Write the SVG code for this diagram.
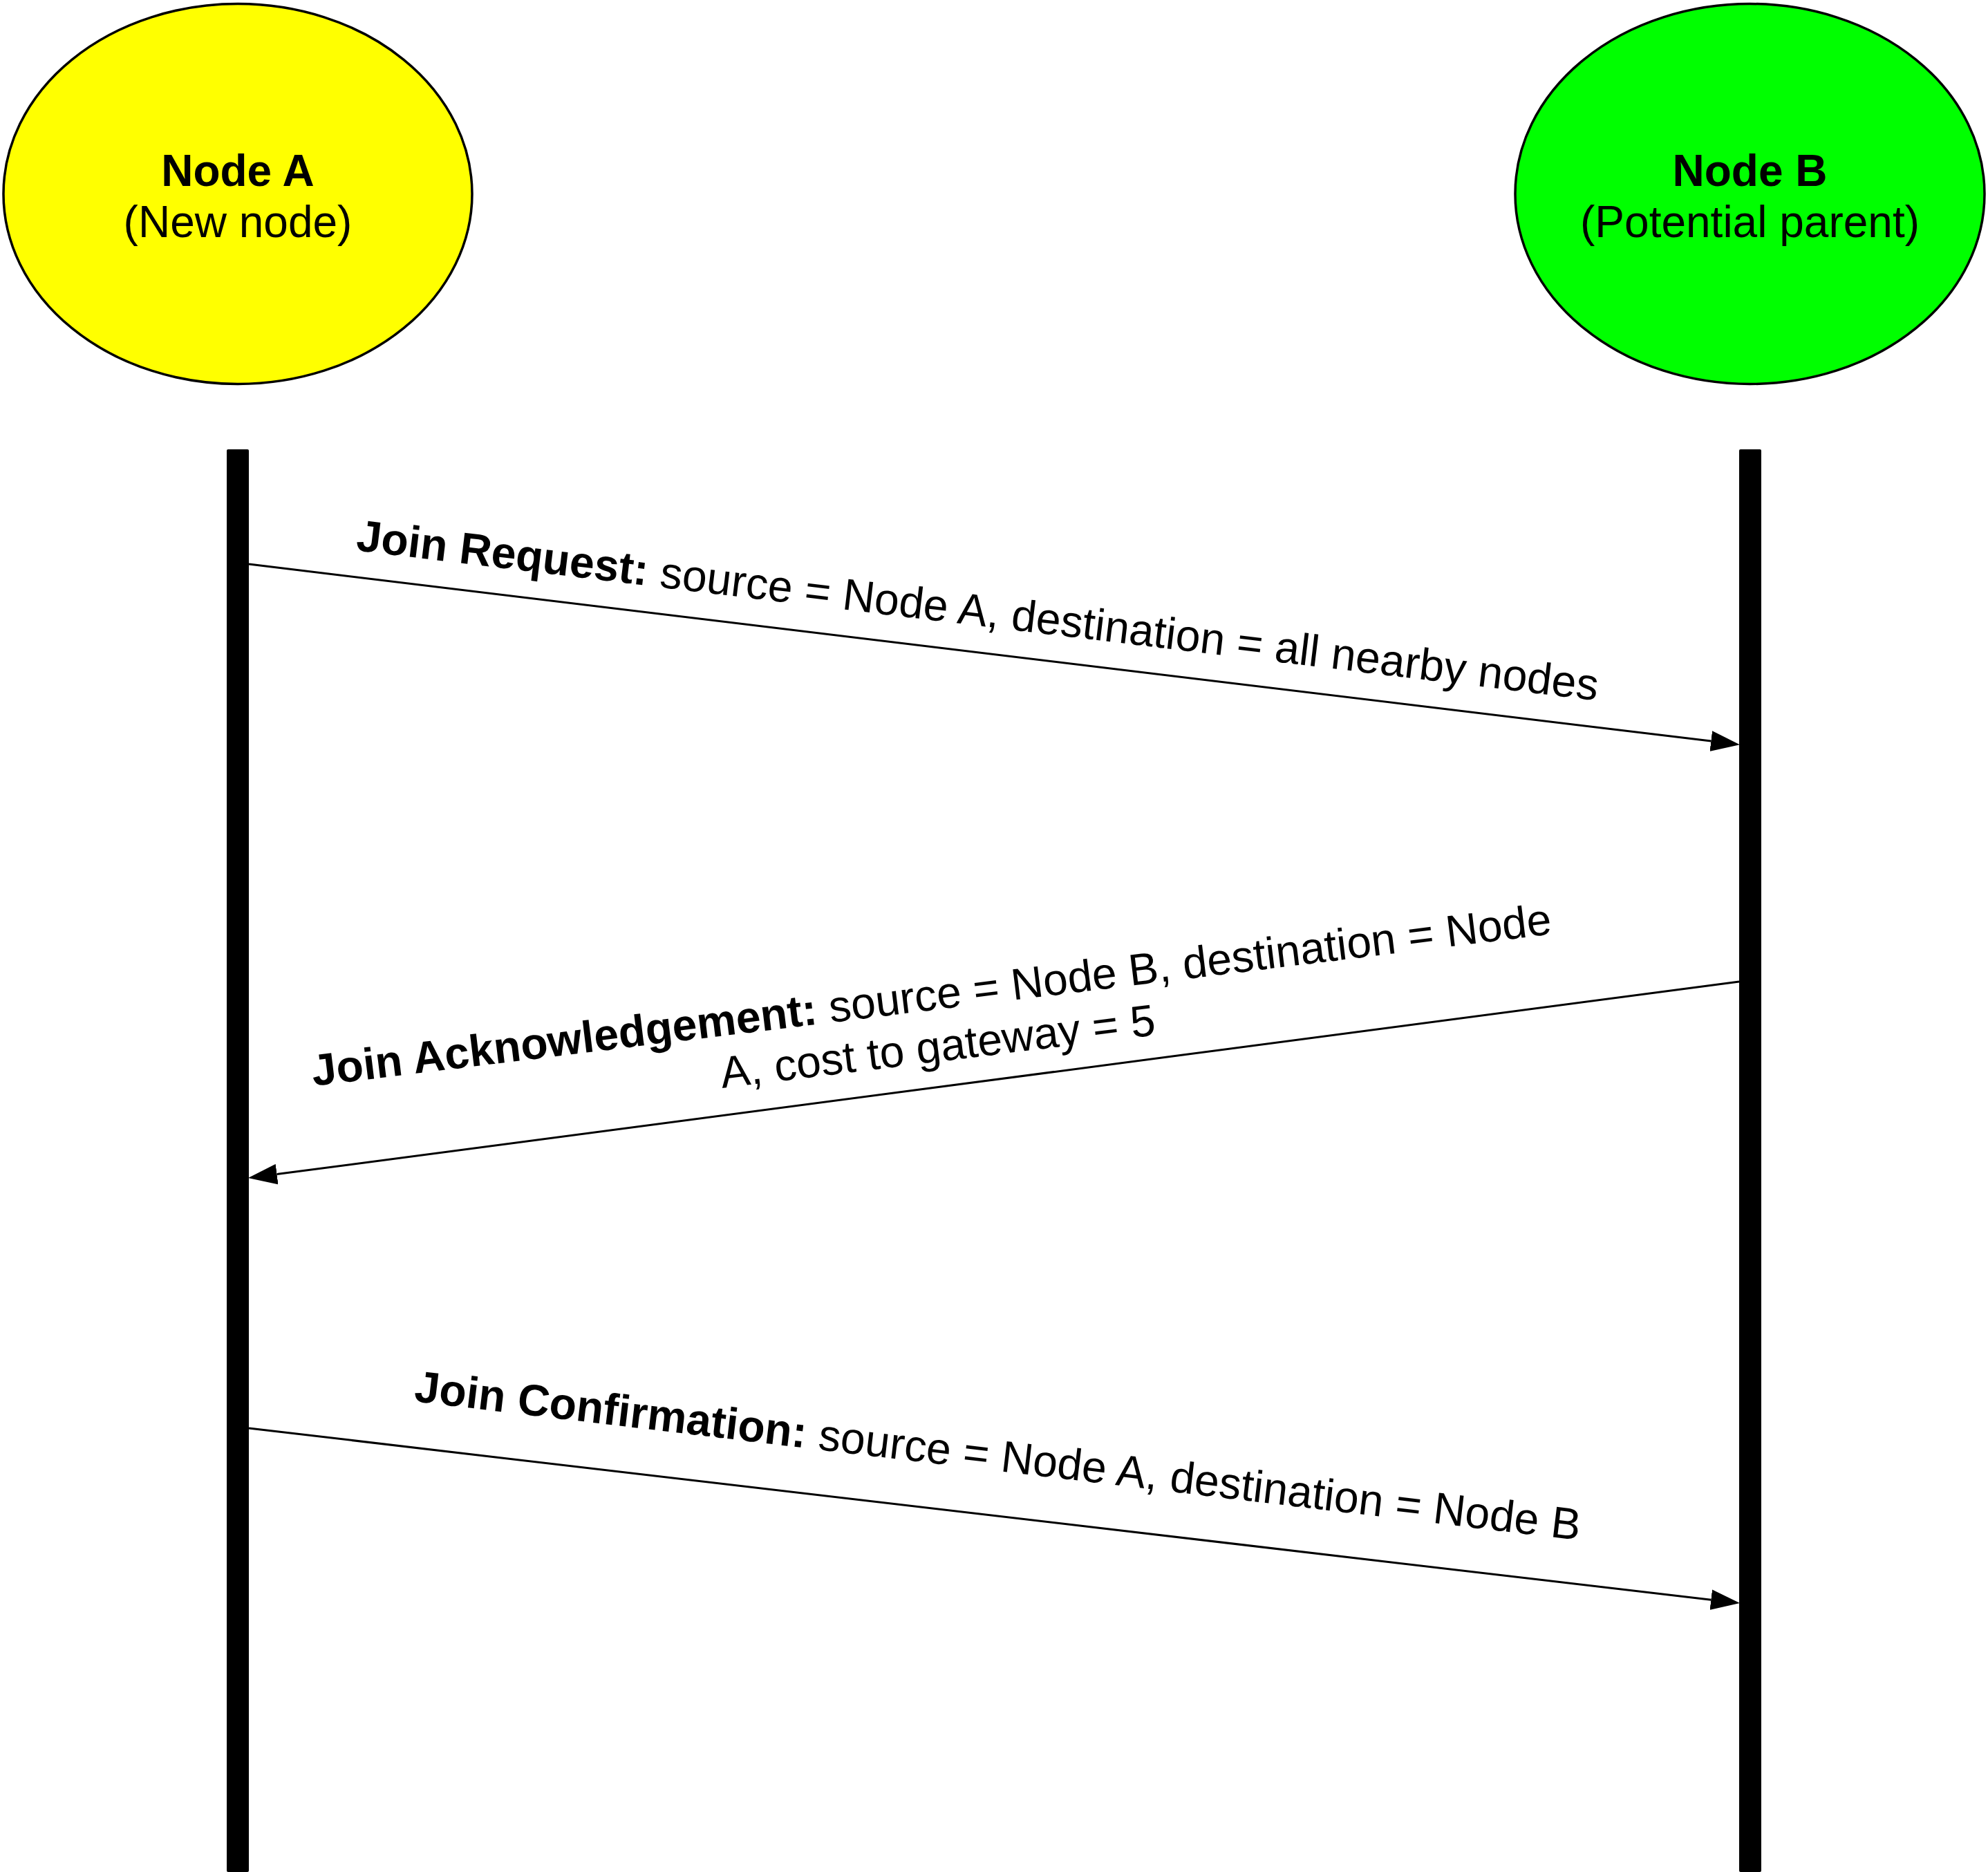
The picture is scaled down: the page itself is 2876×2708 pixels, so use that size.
<svg xmlns="http://www.w3.org/2000/svg" width="2876" height="2708" viewBox="0 0 2876 2708">
  <style>
    .node { stroke: #000000; stroke-width: 3.5; }
    .ntext { font-family: "Liberation Sans", Arial, Helvetica, sans-serif; font-size: 64px; fill: #000000; text-anchor: middle; }
    .bold { font-weight: bold; }
    .lane { fill: #000000; }
    .msg { stroke: #000000; stroke-width: 3; fill: none; marker-end: url(#arrow); }
    .label { font-family: "Liberation Sans", Arial, Helvetica, sans-serif; font-size: 64.2px; fill: #000000; }
  </style>
  <defs>
    <marker id="arrow" markerUnits="userSpaceOnUse" markerWidth="42" markerHeight="30" viewBox="0 0 41 29" refX="0" refY="14.5" orient="auto">
      <path d="M0,0 L41,14.5 L0,29 Z" fill="#000000"/>
    </marker>
  </defs>
  <rect x="0" y="0" width="2876" height="2708" fill="#ffffff"/>

  <g id="nodeA">
    <ellipse class="node" cx="344" cy="280.5" rx="339" ry="275" fill="#ffff00"/>
    <text class="ntext bold" x="344" y="269">Node A</text>
    <text class="ntext" x="344" y="343">(New node)</text>
  </g>

  <g id="nodeB">
    <ellipse class="node" cx="2531.5" cy="280.5" rx="339.5" ry="275" fill="#00ff00"/>
    <text class="ntext bold" x="2531.5" y="269">Node B</text>
    <text class="ntext" x="2531.5" y="343">(Potential parent)</text>
  </g>

  <g id="lifelineA">
    <rect class="lane" x="328" y="650" width="32" height="2058" rx="2"/>
  </g>

  <g id="lifelineB">
    <rect class="lane" x="2516" y="650" width="32" height="2058" rx="2"/>
  </g>

  <g id="connectors">
    <path class="msg" d="M360,816 L2475.3,1072.1"/>
    <path class="msg" d="M2516,1420 L400.6,1698.6"/>
    <path class="msg" d="M360,2066 L2475.3,2314.2"/>
  </g>

  <g id="labels">
    <text class="label" x="514" y="796" transform="rotate(6.9 514 796)"><tspan class="bold">Join Request:</tspan> source = Node A, destination = all nearby nodes</text>
    <g transform="translate(1350 1461) rotate(-7)">
      <text class="label" x="0" y="0" text-anchor="middle"><tspan class="bold">Join Acknowledgement:</tspan> source = Node B, destination = Node</text>
      <text class="label" x="0" y="75" text-anchor="middle">A, cost to gateway = 5</text>
    </g>
    <text class="label" x="598" y="2027" transform="rotate(6.8 598 2027)"><tspan class="bold">Join Confirmation:</tspan> source = Node A, destination = Node B</text>
  </g>
</svg>
